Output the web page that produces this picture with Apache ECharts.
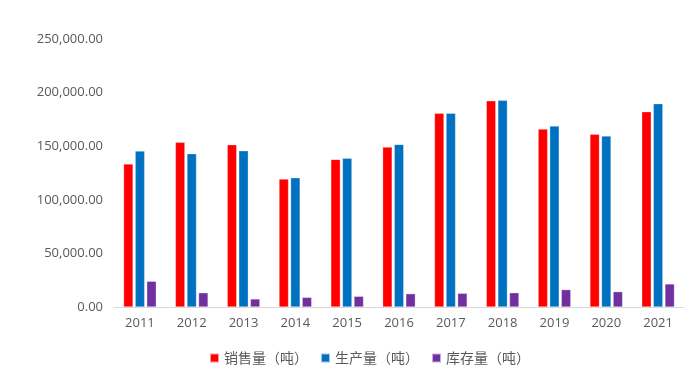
<!DOCTYPE html>
<html><head><meta charset="utf-8">
<script src="https://cdn.jsdelivr.net/npm/echarts@6/dist/echarts.min.js"></script>
<style>html,body{margin:0;padding:0;background:#fff}#c{width:700px;height:370px}</style>
</head><body><div id="c"></div>
<script>
const years = ['2011','2012','2013','2014','2015','2016','2017','2018','2019','2020','2021'];
const sales = [133400,153600,151400,119400,137700,149200,180700,192400,166000,161100,182200];
const production = [145500,143000,145800,120600,138700,151700,180700,192800,168800,159500,189700];
const inventory = [24000,13300,7500,9000,10000,12400,12800,13300,16200,14300,21500];
const seriesNames = ['销售量（吨）','生产量（吨）','库存量（吨）'];
const yTicks = [0,50000,100000,150000,200000,250000];

const chart = echarts.init(document.getElementById('c'));
const fmt = v => v.toLocaleString('en-US',{minimumFractionDigits:2,maximumFractionDigits:2});
const base = {type:'bar', barWidth:9.5, barGap:'22%', itemStyle:{borderColor:'rgba(255,255,255,0.6)',borderWidth:0.5}};
chart.setOption({
  animation:false,
  textStyle:{fontFamily:'"Open Sans","Noto Sans CJK SC",sans-serif'},
  grid:{left:114,right:16,top:39,bottom:63,containLabel:false},
  legend:{bottom:0,left:204,itemWidth:9,itemHeight:9,itemGap:12,icon:'rect',
    textStyle:{fontSize:14,color:'#595959',fontFamily:'"Noto Sans CJK SC",sans-serif'}},
  xAxis:{type:'category',data:years,axisLine:{lineStyle:{color:'#D9D9D9'}},axisTick:{show:false},
    axisLabel:{color:'#595959',fontSize:13,margin:10}},
  yAxis:{type:'value',min:yTicks[0],max:yTicks[yTicks.length-1],interval:50000,
    axisLine:{show:false},axisTick:{show:false},splitLine:{show:false},
    axisLabel:{color:'#595959',fontSize:13,margin:11,formatter:fmt}},
  series:[
    Object.assign({},base,{name:seriesNames[0],data:sales,itemStyle:Object.assign({},base.itemStyle,{color:'#FF0000'})}),
    Object.assign({},base,{name:seriesNames[1],data:production,itemStyle:Object.assign({},base.itemStyle,{color:'#0070C0'})}),
    Object.assign({},base,{name:seriesNames[2],data:inventory,itemStyle:Object.assign({},base.itemStyle,{color:'#7030A0'})})
  ]
});
</script></body></html>
